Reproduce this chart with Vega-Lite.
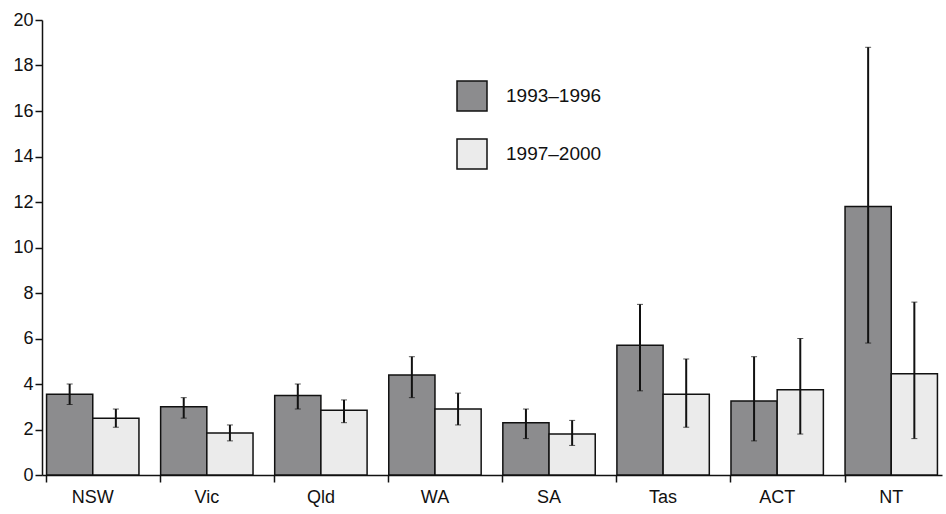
{
  "$schema": "https://vega.github.io/schema/vega-lite/v6.json",
  "width": 946,
  "height": 514,
  "autosize": {"type": "fit", "contains": "padding"},
  "padding": {"left": 12, "top": 11, "right": 4, "bottom": 8},
  "background": "white",
  "config": {"view": {"stroke": null}, "font": "Liberation Sans", "axis": {"labelFontSize": 18, "labelColor": "#111", "domainColor": "#111", "tickColor": "#111", "domainWidth": 1.5, "tickWidth": 1.5}},
  "data": {
    "values": [
      {"state": "NSW", "period": "1993–1996", "rate": 3.55, "lo": 3.1, "hi": 4.0},
      {"state": "NSW", "period": "1997–2000", "rate": 2.5, "lo": 2.1, "hi": 2.9},
      {"state": "Vic", "period": "1993–1996", "rate": 3.0, "lo": 2.5, "hi": 3.4},
      {"state": "Vic", "period": "1997–2000", "rate": 1.85, "lo": 1.5, "hi": 2.2},
      {"state": "Qld", "period": "1993–1996", "rate": 3.5, "lo": 2.9, "hi": 4.0},
      {"state": "Qld", "period": "1997–2000", "rate": 2.85, "lo": 2.3, "hi": 3.3},
      {"state": "WA", "period": "1993–1996", "rate": 4.4, "lo": 3.4, "hi": 5.2},
      {"state": "WA", "period": "1997–2000", "rate": 2.9, "lo": 2.2, "hi": 3.6},
      {"state": "SA", "period": "1993–1996", "rate": 2.3, "lo": 1.6, "hi": 2.9},
      {"state": "SA", "period": "1997–2000", "rate": 1.8, "lo": 1.3, "hi": 2.4},
      {"state": "Tas", "period": "1993–1996", "rate": 5.7, "lo": 3.7, "hi": 7.5},
      {"state": "Tas", "period": "1997–2000", "rate": 3.55, "lo": 2.1, "hi": 5.1},
      {"state": "ACT", "period": "1993–1996", "rate": 3.25, "lo": 1.5, "hi": 5.2},
      {"state": "ACT", "period": "1997–2000", "rate": 3.75, "lo": 1.8, "hi": 6.0},
      {"state": "NT", "period": "1993–1996", "rate": 11.8, "lo": 5.8, "hi": 18.8},
      {"state": "NT", "period": "1997–2000", "rate": 4.45, "lo": 1.6, "hi": 7.6}
    ]
  },
  "encoding": {
    "x": {"field": "state", "type": "nominal", "sort": null, "title": null,
      "scale": {"paddingInner": 0.19, "paddingOuter": 0.04},
      "axis": {"labelAngle": 0, "bandPosition": 0, "tickSize": 7, "labelPadding": 6}},
    "xOffset": {"field": "period", "type": "nominal"}
  },
  "layer": [
    {
      "mark": {"type": "bar", "stroke": "#111", "strokeWidth": 1.5},
      "encoding": {
        "y": {"field": "rate", "type": "quantitative", "title": null,
          "scale": {"domain": [0, 20]},
          "axis": {"values": [0, 2, 4, 6, 8, 10, 12, 14, 16, 18, 20], "grid": false, "tickSize": 7}},
        "fill": {"field": "period", "type": "nominal", "title": null,
          "scale": {"range": ["#8c8c8e", "#ebebeb"]},
          "legend": {"orient": "none", "legendX": 414, "legendY": 60, "symbolType": "square", "symbolSize": 900, "symbolStrokeColor": "#111", "symbolStrokeWidth": 1.5, "labelFontSize": 19, "labelOffset": 18, "rowPadding": 22, "labelColor": "#111"}
        }
      }
    },
    {
      "mark": {"type": "errorbar", "ticks": {"size": 6, "color": "#111", "strokeWidth": 2}, "rule": {"color": "#111", "strokeWidth": 2}},
      "encoding": {
        "y": {"field": "lo", "type": "quantitative"},
        "y2": {"field": "hi"}
      }
    }
  ]
}
